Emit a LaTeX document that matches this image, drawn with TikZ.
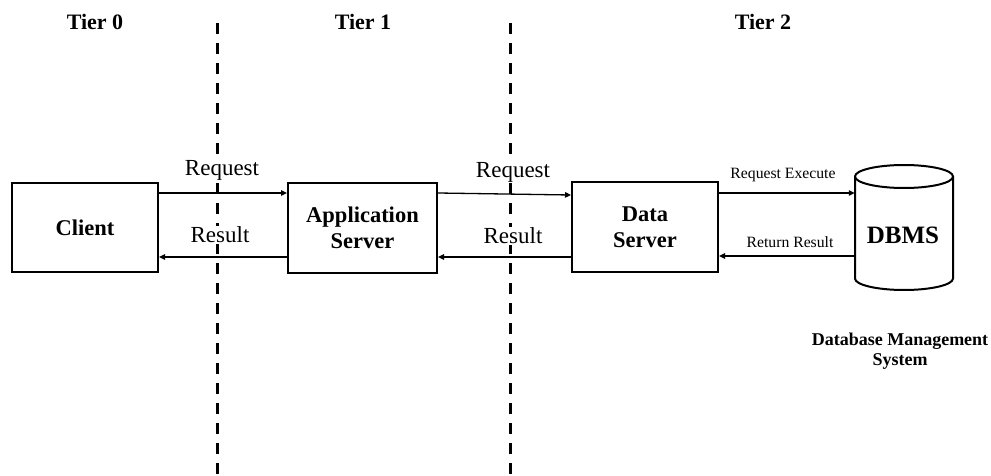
\documentclass[tikz,border=0pt]{standalone}
\usepackage{fontspec}
\setmainfont{Liberation Serif}
\usetikzlibrary{arrows.meta}
\begin{document}
\begin{tikzpicture}[x=1pt,y=1pt,
  box/.style={draw,line width=2pt,inner sep=0pt,align=center,font=\fontsize{22.5}{26}\selectfont\bfseries},
  tier/.style={font=\fontsize{22}{25}\selectfont\bfseries},
  lbl/.style={font=\fontsize{23}{26}\selectfont,fill=white,inner sep=1pt},
  slbl/.style={font=\fontsize{15.7}{18}\selectfont,inner sep=1pt},
  arr/.style={line width=1.3pt,-{Triangle[length=6pt,width=5.5pt]}},
  tierline/.style={line width=3pt,dash pattern=on 11pt off 9pt}]
\useasboundingbox (0,0) rectangle (991,475);
% tier separators
\coordinate (s1top) at (217,452);
\coordinate (s1bot) at (217,0);
\coordinate (s2top) at (510,452);
\coordinate (s2bot) at (510,0);
\draw[tierline] (s1top) -- (s1bot);
\draw[tierline] (s2top) -- (s2bot);
% tier labels
\node[tier] (t0) at (95,453) {Tier 0};
\node[tier] (t1) at (363,453) {Tier 1};
\node[tier] (t2) at (763,453) {Tier 2};
% boxes
\node[box,minimum width=146pt,minimum height=89pt] (client) at (85,247.5) {Client};
\node[box,minimum width=149pt,minimum height=90pt] (app) at (362.5,247) {Application\\Server};
\node[box,minimum width=146pt,minimum height=90pt] (data) at (645,248) {Data\\Server};
% DBMS cylinder
\node[minimum width=98pt,minimum height=125pt,inner sep=0pt] (dbms) at (904,247.5) {};
\draw[line width=2pt] (855,298.5) -- (855,196.5)
  arc[start angle=180,end angle=360,x radius=49,y radius=11.5] -- (953,298.5);
\draw[line width=2pt] (904,298.5) ellipse [x radius=49,y radius=11.5];
\node[font=\fontsize{25}{28}\selectfont\bfseries] (dbmstext) at (903,240) {DBMS};
\node[font=\fontsize{18}{20}\selectfont\bfseries,align=center] (dbmsname) at (900,124) {Database Management\\System};
% arrows
\draw[arr] (client.east |- 0,282) -- (app.west |- 0,282);
\draw[arr] (app.west |- 0,218) -- (client.east |- 0,218);
\draw[arr] (app.east |- 0,282) -- (data.west |- 0,280);
\draw[arr] (data.west |- 0,218) -- (app.east |- 0,218);
\draw[arr] (data.east |- 0,282) -- (dbms.west |- 0,282);
\draw[arr] (dbms.west |- 0,219) -- (data.east |- 0,219);
% labels
\node[lbl] (req1) at (222,305) {Request};
\node[lbl] (res1) at (220,240) {Result};
\node[lbl] (req2) at (513,303) {Request};
\node[lbl] (res2) at (513,239) {Result};
\node[slbl] (req3) at (783,300) {Request Execute};
\node[slbl] (res3) at (790,233) {Return Result};
\end{tikzpicture}
\end{document}
